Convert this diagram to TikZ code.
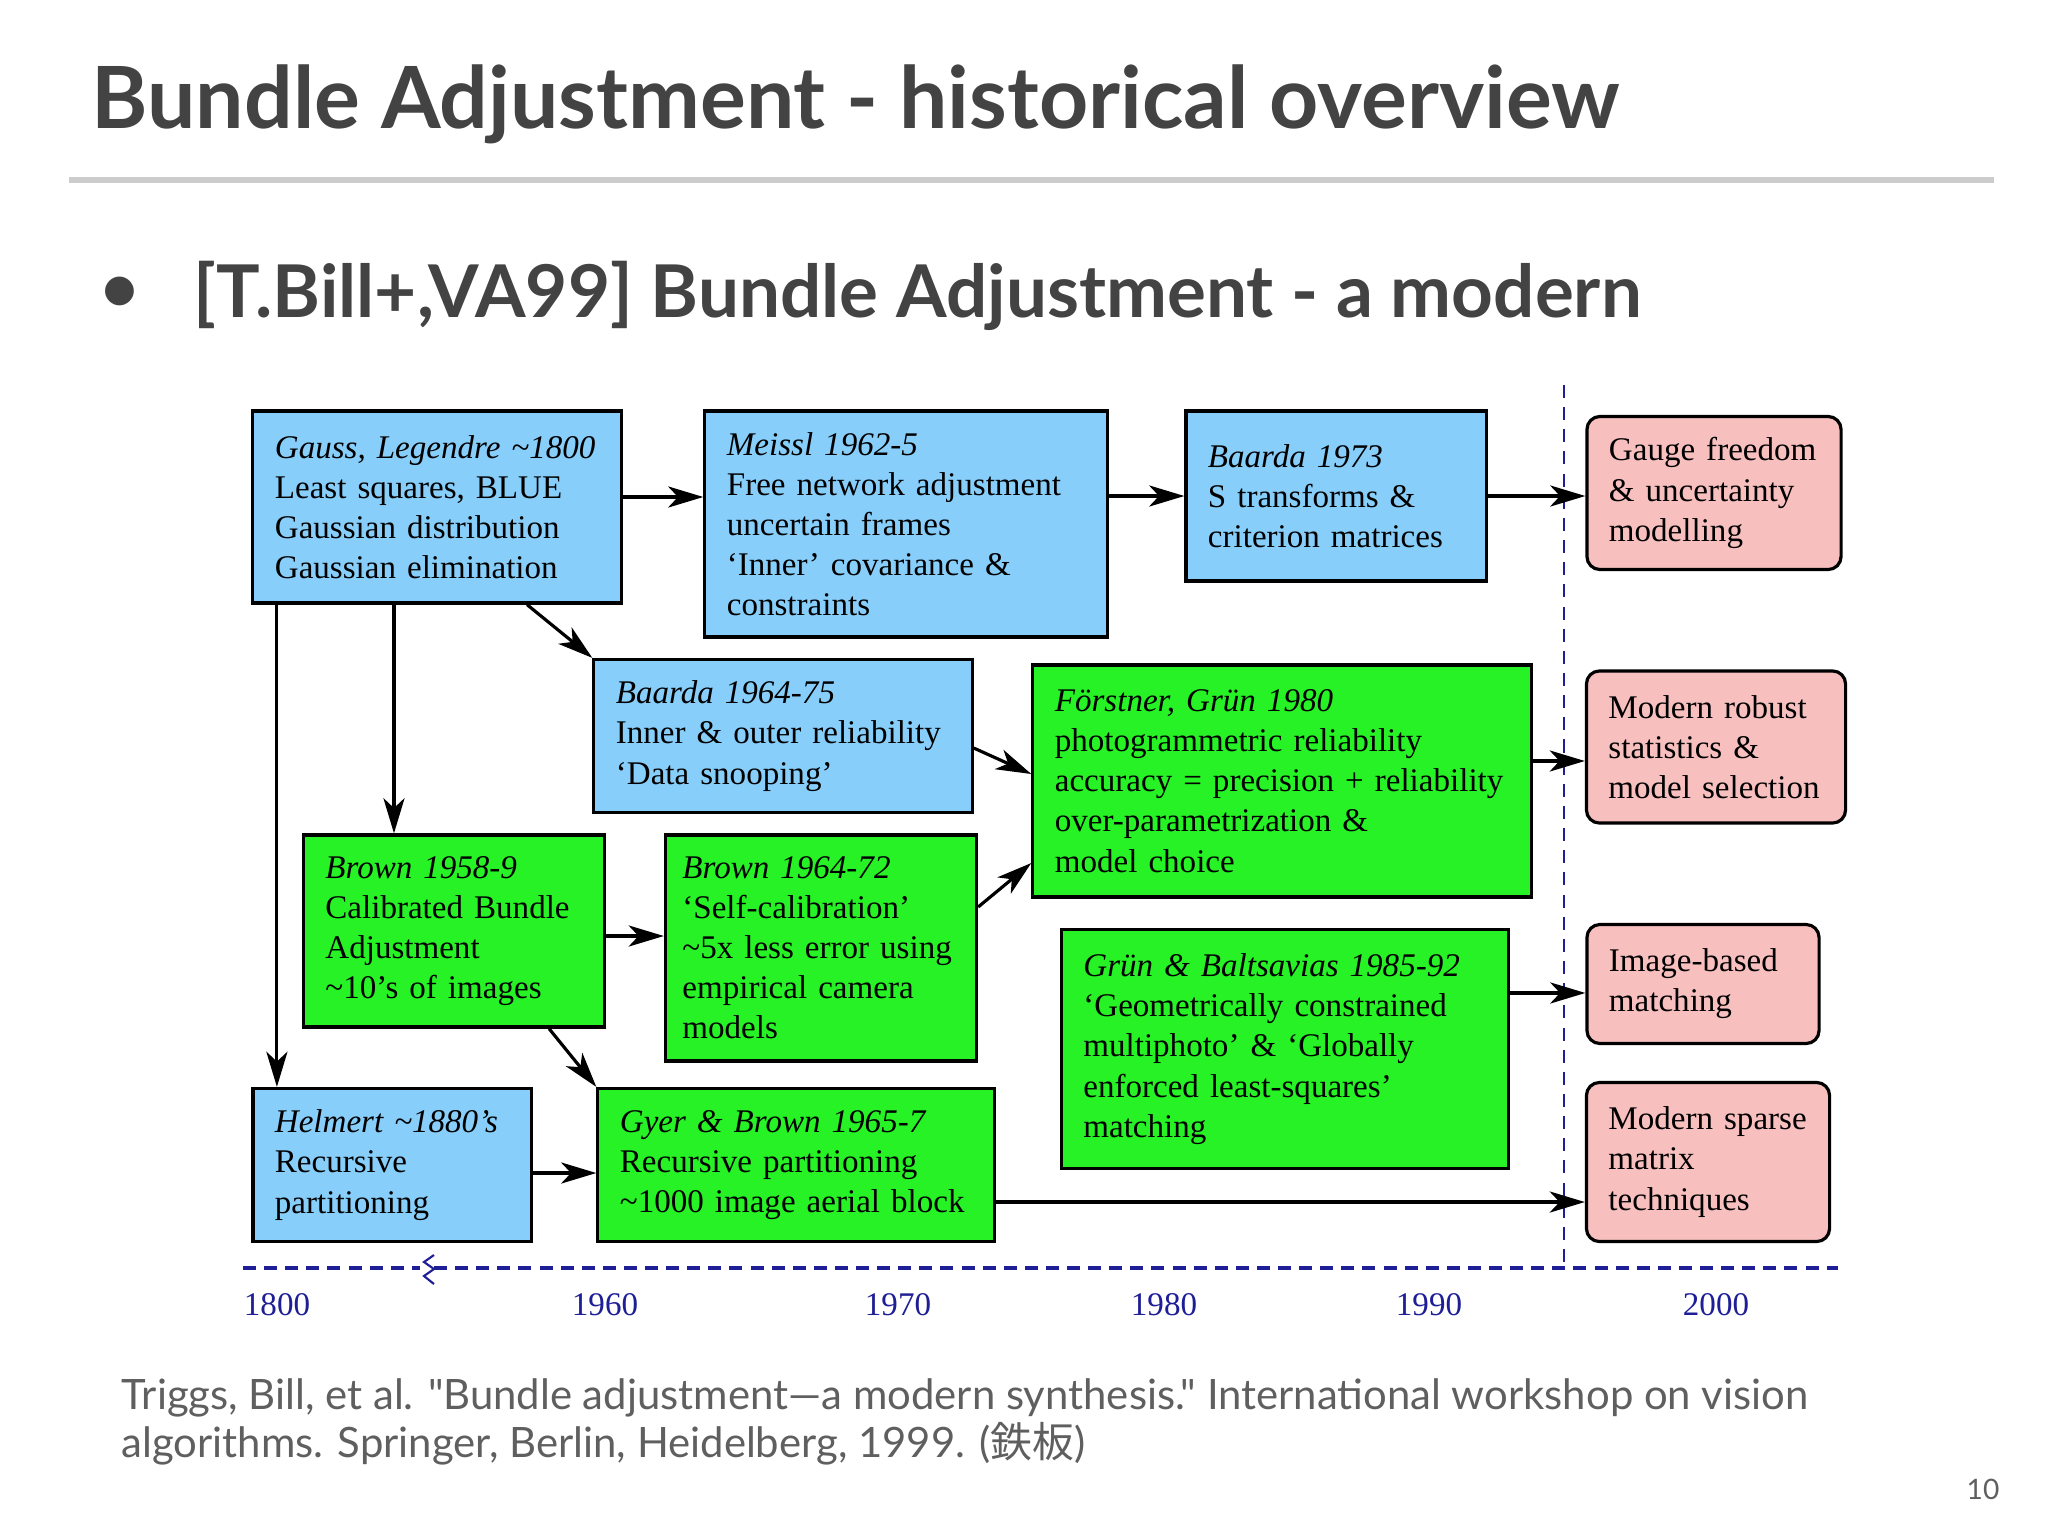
\documentclass[tikz,border=0pt]{standalone}
\usepackage{fontspec}
\setmainfont{Liberation Serif}
\newfontfamily\slidefont{Lato}
\newfontfamily\cjkfont{Noto Sans CJK JP}
\usetikzlibrary{arrows.meta}

\definecolor{earlyblue}{RGB}{135,206,250}
\definecolor{photogreen}{RGB}{38,242,38}
\definecolor{modernpink}{RGB}{248,191,191}
\definecolor{axisblue}{RGB}{30,30,150}
\definecolor{slidegray}{RGB}{67,67,67}
\definecolor{notegray}{RGB}{95,95,95}
\definecolor{rulegray}{RGB}{204,204,204}

\newcommand{\boxfont}{\fontsize{9.4pt}{11.4pt}\selectfont}

\begin{document}
\begin{tikzpicture}[x=0.01cm, y=-0.01cm,
    work/.style={rectangle, draw=black, line width=0.9pt, inner xsep=0.22cm, inner ysep=0pt, align=left, font=\boxfont},
    early/.style={work, fill=earlyblue},
    photo/.style={work, fill=photogreen},
    modern/.style={work, fill=modernpink, rounded corners=0.13cm},
    arrow/.style={-{Stealth[length=10pt, width=6pt, inset=2.8pt]}, line width=0.9pt},
    year/.style={font=\boxfont, text=axisblue},
    era/.style={draw=axisblue, line width=0.7pt, dash pattern=on 3.7pt off 2.6pt},
    axis/.style={draw=axisblue, line width=0.9pt, dash pattern=on 3.7pt off 2.3pt}
]
\path[use as bounding box, fill=white] (0,0) rectangle (2048,1536);

% Slide heading
\node[anchor=base west, inner sep=0pt, text=slidegray, font=\slidefont\bfseries\fontsize{24.4pt}{30pt}\selectfont] at (91,128) (title) {Bundle Adjustment - historical overview};
\draw[rulegray, line width=1.5pt] (69,180) -- (1994,180);
\node[anchor=center, inner sep=0pt, text=slidegray, font=\slidefont\fontsize{22pt}{26pt}\selectfont] at (120,296) (bullet) {\textbullet};
\node[anchor=base west, inner sep=0pt, text=slidegray, font=\slidefont\bfseries\fontsize{20.7pt}{26pt}\selectfont] at (193,317) (subtitle) {[T.Bill+,VA99] Bundle Adjustment - a modern};

% Early works (blue)
\node[early, minimum width=3.68cm, minimum height=1.92cm, text width=3.24cm] at (437,507) (gauss) {\textit{Gauss, Legendre \textasciitilde1800}\\Least squares, BLUE\\Gaussian distribution\\Gaussian elimination};
\node[early, minimum width=4.02cm, minimum height=2.26cm, text width=3.58cm] at (906,524) (meissl) {\textit{Meissl 1962-5}\\Free network adjustment\\uncertain frames\\‘Inner’ covariance \&\\constraints};
\node[early, minimum width=3.00cm, minimum height=1.70cm, text width=2.56cm] at (1336,496) (baardaS) {\textit{Baarda 1973}\\S transforms \&\\criterion matrices};
\node[early, minimum width=3.78cm, minimum height=1.53cm, text width=3.34cm] at (783,736) (baardaR) {\textit{Baarda 1964-75}\\Inner \& outer reliability\\‘Data snooping’};
\node[early, minimum width=2.78cm, minimum height=1.53cm, text width=2.34cm] at (392,1165) (helmert) {\textit{Helmert \textasciitilde1880’s}\\Recursive\\partitioning};

% Photogrammetry (green)
\node[photo, minimum width=4.98cm, minimum height=2.32cm, text width=4.54cm] at (1282,781) (forstner) {\textit{Förstner, Grün 1980}\\photogrammetric reliability\\accuracy = precision + reliability\\over-parametrization \&\\model choice};
\node[photo, minimum width=3.01cm, minimum height=1.92cm, text width=2.57cm] at (454,931) (brownA) {\textit{Brown 1958-9}\\Calibrated Bundle\\Adjustment\\\textasciitilde10’s of images};
\node[photo, minimum width=3.11cm, minimum height=2.26cm, inner xsep=0.17cm, text width=2.77cm] at (821,948) (brownB) {\textit{Brown 1964-72}\\‘Self-calibration’\\\mbox{\textasciitilde5x less error using}\\empirical camera\\models};
\node[photo, minimum width=4.47cm, minimum height=2.39cm, text width=4.03cm] at (1285,1049) (gruen) {\textit{Grün \& Baltsavias 1985-92}\\‘Geometrically constrained\\multiphoto’ \& ‘Globally\\enforced least-squares’\\matching};
\node[photo, minimum width=3.96cm, minimum height=1.53cm, text width=3.52cm] at (796,1165) (gyer) {\textit{Gyer \& Brown 1965-7}\\Recursive partitioning\\\textasciitilde1000 image aerial block};

% Modern topics (pink)
\node[modern, minimum width=2.54cm, minimum height=1.53cm, text width=2.10cm] at (1714,493) (gauge) {Gauge freedom\\\& uncertainty\\modelling};
\node[modern, minimum width=2.59cm, minimum height=1.52cm, text width=2.15cm] at (1716,747) (robust) {Modern robust\\statistics \&\\model selection};
\node[modern, minimum width=2.32cm, minimum height=1.19cm, text width=1.88cm] at (1703,984) (image) {Image-based\\matching};
\node[modern, minimum width=2.43cm, minimum height=1.59cm, text width=1.99cm] at (1708,1162) (sparse) {Modern sparse\\matrix\\techniques};

% Time line
\draw[era] (1564,385) -- (1564,1268);
\draw[axis] (243,1268) -- (420,1268);
\draw[axis] (434,1268) -- (1838,1268);
\draw[axisblue, line width=0.6pt] (434,1255) -- (424,1262) -- (434,1269) -- (424,1276) -- (434,1284);
\foreach \yr/\xx in {1800/277, 1960/605, 1970/898, 1980/1164, 1990/1429, 2000/1716}
    \node[year] at (\xx,1305) (y\yr) {\yr};

% Arrows
\draw[arrow] ([yshift=0.1cm]gauss.east) -- ([yshift=0.1cm]gauss.east -| meissl.west);
\draw[arrow] (baardaS.west -| meissl.east) -- (baardaS.west);
\draw[arrow] (baardaS.east) -- (baardaS.east -| gauge.west);
\draw[arrow] ([xshift=0.9cm]gauss.south) -- (baardaR.north west);
\draw[arrow] ([xshift=-1.6cm]gauss.south) coordinate (g1) -- (g1 |- helmert.north);
\draw[arrow] ([xshift=-0.43cm]gauss.south) coordinate (g2) -- (g2 |- brownA.north);
\draw[arrow] ([yshift=-0.12cm]baardaR.east) -- ([yshift=0.07cm]forstner.west);
\draw[arrow] ([yshift=-0.05cm]brownA.east) -- ([yshift=-0.05cm]brownA.east -| brownB.west);
\draw[arrow] ([yshift=0.41cm]brownB.east) -- ([yshift=-0.82cm]forstner.west);
\draw[arrow] ([xshift=0.95cm]brownA.south) -- (gyer.north west);
\draw[arrow] ([yshift=-0.08cm]helmert.east) -- ([yshift=-0.08cm]gyer.west);
\draw[arrow] ([yshift=-0.37cm]gyer.east) -- ([yshift=-0.37cm]gyer.east -| sparse.west);
\draw[arrow] ([yshift=0.2cm]forstner.east) -- ([yshift=0.2cm]forstner.east -| robust.west);
\draw[arrow] ([yshift=0.56cm]gruen.east) -- ([yshift=0.56cm]gruen.east -| image.west);

% Reference and page number
\node[anchor=base west, inner sep=0pt, align=left, text=notegray, font=\slidefont\fontsize{11.9pt}{13.4pt}\selectfont] at (121,1457) (ref) {Triggs, Bill, et al. "Bundle adjustment—a modern synthesis." International workshop on vision\\algorithms. Springer, Berlin, Heidelberg, 1999. ({\cjkfont 鉄板})};
\node[anchor=base east, inner sep=0pt, text=notegray, font=\slidefont\fontsize{8pt}{10pt}\selectfont] at (2000,1499) (page) {10};
\end{tikzpicture}
\end{document}
